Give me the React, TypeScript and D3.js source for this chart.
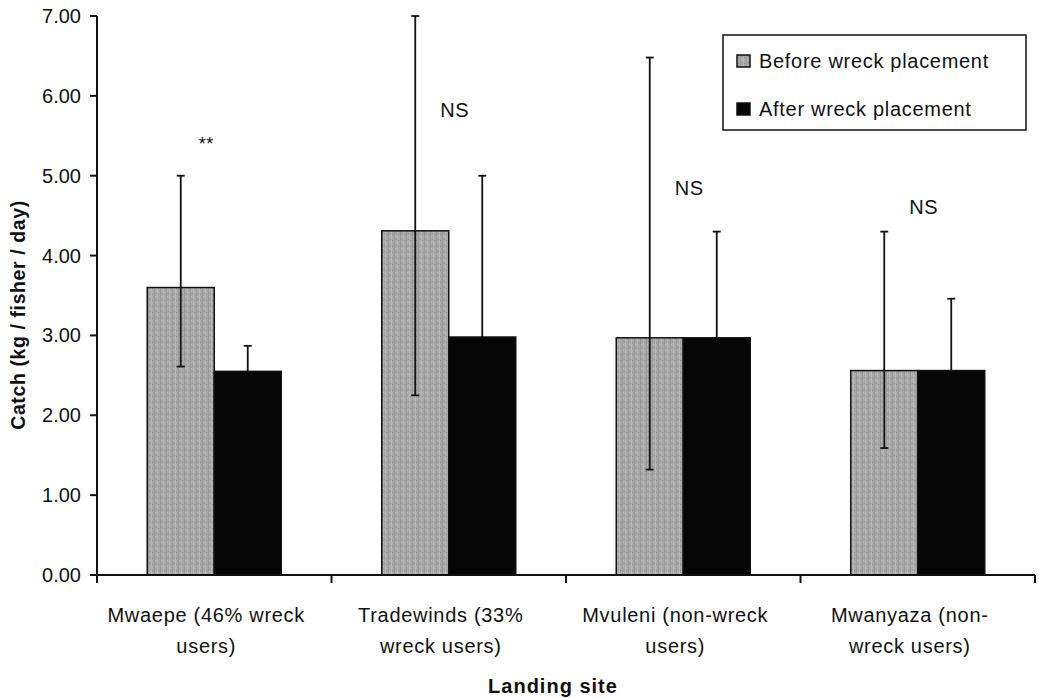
import React from "react";
import { scaleBand, scaleLinear } from "d3";

const width = 1039;
const height = 698;
const margin = { top: 16, right: 4, bottom: 123, left: 97 };

// data
const sites = [
  "Mwaepe (46% wreck users)",
  "Tradewinds (33% wreck users)",
  "Mvuleni (non-wreck users)",
  "Mwanyaza (non-wreck users)",
];
const siteLines = [
  ["Mwaepe (46% wreck", "users)"],
  ["Tradewinds (33%", "wreck users)"],
  ["Mvuleni (non-wreck", "users)"],
  ["Mwanyaza (non-", "wreck users)"],
];
const series = ["Before wreck placement", "After wreck placement"];
const beforeMean = [3.6, 4.31, 2.97, 2.56];
const beforeUpper = [5.0, 7.0, 6.48, 4.3];
const beforeLower = [2.61, 2.25, 1.32, 1.59];
const afterMean = [2.55, 2.98, 2.97, 2.56];
const afterUpper = [2.87, 5.0, 4.3, 3.46];
const afterLower = [2.23, 0.96, 1.64, 1.66];
const significance = ["**", "NS", "NS", "NS"];
const significanceLevel = [5.32, 5.73, 4.76, 4.52];
const yTicks = [0, 1, 2, 3, 4, 5, 6, 7];

const font = "Arial, 'Liberation Sans', Helvetica, sans-serif";
const barFill = ["url(#stipple)", "#060606"];
const ink = "#111";

const App = () => {
  const innerWidth = width - margin.left - margin.right;
  const innerHeight = height - margin.top - margin.bottom;

  const xScale = scaleBand().domain(sites).range([0, innerWidth]).padding(0);
  const subScale = scaleBand()
    .domain(series)
    .range([0, xScale.bandwidth()])
    .paddingInner(0)
    .paddingOuter(0.75);
  const yScale = scaleLinear().domain([0, 7]).range([innerHeight, 0]);

  const rows = [
    { mean: beforeMean, upper: beforeUpper, lower: beforeLower },
    { mean: afterMean, upper: afterUpper, lower: afterLower },
  ];

  const errorBars = (j: number) =>
    sites.map((site, i) => {
      const s = series[j];
      const cx = (xScale(site) ?? 0) + (subScale(s) ?? 0) + subScale.bandwidth() / 2;
      const yU = yScale(rows[j].upper[i]);
      const yL = yScale(rows[j].lower[i]);
      return (
        <g key={"err" + site + s} stroke={ink} strokeWidth={1.8}>
          <line x1={cx} x2={cx} y1={yU} y2={yL} />
          <line x1={cx - 4} x2={cx + 4} y1={yU} y2={yU} />
          <line x1={cx - 4} x2={cx + 4} y1={yL} y2={yL} />
        </g>
      );
    });

  return (
    <svg
      width={width}
      height={height}
      style={{ position: "absolute", left: 0, top: 0, fontFamily: font }}
    >
      <defs>
        <pattern id="stipple" width="6" height="6" patternUnits="userSpaceOnUse">
          <rect width="6" height="6" fill="#a9a9a9" />
          <rect x="0" y="0" width="1" height="6" fill="#b9b9b9" />
          <rect x="3" y="0" width="1" height="6" fill="#979797" />
          <rect x="1" y="2" width="1" height="1" fill="#8a8a8a" />
          <rect x="4" y="4" width="1" height="1" fill="#c4c4c4" />
          <rect x="5" y="1" width="1" height="1" fill="#8f8f8f" />
        </pattern>
      </defs>
      <rect width={width} height={height} fill="white" />
      <g transform={`translate(${margin.left}, ${margin.top})`}>
        {/* after-series whiskers sit behind the black bars */}
        {errorBars(1)}

        {/* bars */}
        {sites.map((site, i) =>
          series.map((s, j) => {
            const v = rows[j].mean[i];
            return (
              <rect
                key={site + s}
                x={(xScale(site) ?? 0) + (subScale(s) ?? 0)}
                y={yScale(v)}
                width={subScale.bandwidth()}
                height={innerHeight - yScale(v)}
                fill={barFill[j]}
                stroke={ink}
                strokeWidth={1.5}
              />
            );
          })
        )}

        {errorBars(0)}

        {/* significance labels */}
        {sites.map((site, i) => (
          <text
            key={"sig" + site}
            x={(xScale(site) ?? 0) + xScale.bandwidth() / 2 + (significance[i] === "**" ? -8 : 6)}
            y={yScale(significanceLevel[i])}
            textAnchor="middle"
            fontSize={significance[i] === "**" ? 18 : 20}
            letterSpacing={0.5}
            fill={ink}
          >
            {significance[i]}
          </text>
        ))}

        {/* y axis */}
        <line x1={0} x2={0} y1={0} y2={innerHeight} stroke={ink} strokeWidth={2} />
        {yTicks.map((t) => (
          <g key={"yt" + t}>
            <line x1={-7} x2={0} y1={yScale(t)} y2={yScale(t)} stroke={ink} strokeWidth={2} />
            <text
              x={-16}
              y={yScale(t)}
              dy="0.35em"
              textAnchor="end"
              fontSize={20}
              fill={ink}
            >
              {t.toFixed(2)}
            </text>
          </g>
        ))}

        {/* x axis */}
        <line x1={0} x2={innerWidth} y1={innerHeight} y2={innerHeight} stroke={ink} strokeWidth={2} />
        {[...sites.map((s) => xScale(s) ?? 0), innerWidth].map((x, k) => (
          <line key={"xt" + k} x1={x} x2={x} y1={innerHeight} y2={innerHeight + 8} stroke={ink} strokeWidth={2} />
        ))}
        {sites.map((site, i) => {
          const cx = (xScale(site) ?? 0) + xScale.bandwidth() / 2 - 8;
          return (
            <text
              key={"xl" + site}
              x={cx}
              y={innerHeight + 47}
              textAnchor="middle"
              fontSize={20}
              letterSpacing={0.7}
              fill={ink}
            >
              {siteLines[i].map((line, k) => (
                <tspan key={k} x={cx} dy={k === 0 ? 0 : 31}>
                  {line}
                </tspan>
              ))}
            </text>
          );
        })}
        <text
          x={innerWidth / 2 - 13}
          y={innerHeight + 118}
          textAnchor="middle"
          fontSize={20}
          fontWeight="bold"
          letterSpacing={1}
          fill={ink}
        >
          Landing site
        </text>

        {/* legend */}
        <g transform={`translate(${innerWidth - 312}, 19)`}>
          <rect x={0} y={0} width={303} height={95} fill="white" stroke={ink} strokeWidth={1.5} />
          {series.map((s, j) => (
            <g key={"lg" + s} transform={`translate(14, ${j * 48 + 20})`}>
              <rect x={0} y={0} width={13} height={12} fill={barFill[j]} stroke={ink} strokeWidth={1.5} />
              <text x={22} y={12.5} fontSize={20} letterSpacing={0.7} fill={ink}>
                {s}
              </text>
            </g>
          ))}
        </g>
      </g>

      {/* y axis title */}
      <text
        transform={`translate(25, 315) rotate(-90)`}
        textAnchor="middle"
        fontSize={19.5}
        fontWeight="bold"
        letterSpacing={0.6}
        fill={ink}
      >
        Catch (kg / fisher / day)
      </text>
    </svg>
  );
};

export default App;
